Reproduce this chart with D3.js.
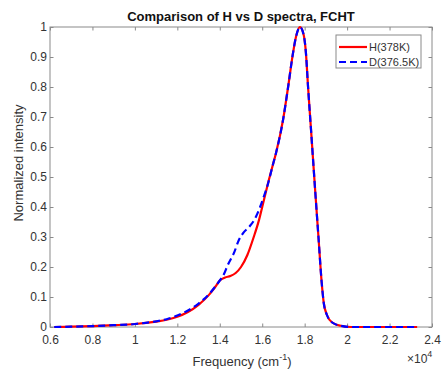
<!DOCTYPE html>
<html>
<head>
<meta charset="utf-8">
<script src="https://cdn.jsdelivr.net/npm/d3@7"></script>
<style>
  body { margin: 0; background: #fff; }
  text { font-family: "Liberation Sans", Arial, sans-serif; }
</style>
</head>
<body>
<div id="chart"></div>
<script>
// frequency (cm^-1) and normalized intensity
const freqH = [6200, 7000, 8000, 9000, 10000, 11000, 11500, 12000, 12500, 13000, 13500, 13800, 14000, 14250, 14500, 14750, 15000, 15300, 15600, 15850, 16000, 16230, 16500, 16650, 16980, 17220, 17450, 17600, 17780, 17950, 18060, 18160, 18300, 18500, 18650, 18800, 18900, 19050, 19300, 19700, 20200, 21000, 22000, 23300];
const intH = [0, 0.001, 0.003, 0.006, 0.01, 0.018, 0.024, 0.034, 0.05, 0.074, 0.108, 0.135, 0.155, 0.165, 0.17, 0.18, 0.2, 0.24, 0.3, 0.357, 0.4, 0.467, 0.54, 0.58, 0.69, 0.8, 0.913, 0.97, 1.0, 0.975, 0.913, 0.8, 0.657, 0.45, 0.3, 0.15, 0.08, 0.04, 0.015, 0.004, 0, 0, 0, 0];

const freqD = [6200, 7000, 8000, 9000, 10000, 11000, 11500, 12000, 12500, 13000, 13500, 13800, 14000, 14150, 14400, 14670, 14900, 15100, 15400, 15650, 15900, 16100, 16230, 16500, 16650, 16980, 17220, 17450, 17600, 17780, 17950, 18060, 18160, 18300, 18500, 18650, 18800, 18900, 19050, 19300, 19700, 20200, 21000, 22000, 23300];
const intD = [0, 0.001, 0.003, 0.006, 0.01, 0.019, 0.026, 0.038, 0.055, 0.078, 0.11, 0.136, 0.155, 0.17, 0.21, 0.247, 0.29, 0.313, 0.335, 0.36, 0.4, 0.44, 0.467, 0.54, 0.58, 0.69, 0.8, 0.913, 0.97, 1.0, 0.975, 0.913, 0.8, 0.657, 0.45, 0.3, 0.15, 0.08, 0.04, 0.015, 0.004, 0, 0, 0, 0];

const xTicks = [6000, 8000, 10000, 12000, 14000, 16000, 18000, 20000, 22000, 24000];
const yTicks = [0, 0.1, 0.2, 0.3, 0.4, 0.5, 0.6, 0.7, 0.8, 0.9, 1];
const seriesNames = ["H(378K)", "D(376.5K)"];

const W = 442, H = 370;
const m = {t: 27, r: 10, b: 43, l: 50};
const iw = W - m.l - m.r, ih = H - m.t - m.b;

const svg = d3.select("#chart").append("svg")
  .attr("width", W).attr("height", H);

const x = d3.scaleLinear().domain([6000, 24000]).range([0, iw]);
const y = d3.scaleLinear().domain([0, 1]).range([ih, 0]);

const g = svg.append("g").attr("transform", `translate(${m.l},${m.t})`);

const axisCol = "#8a8a8a", textCol = "#333";

function styleAxis(sel) {
  sel.select(".domain").remove();
  sel.selectAll(".tick line").attr("stroke", axisCol);
  sel.selectAll(".tick text").attr("fill", textCol).style("font-size", "12px");
}

g.append("g").attr("transform", `translate(0,${ih})`)
  .call(d3.axisBottom(x).tickValues(xTicks).tickSize(-3.5).tickPadding(8)
    .tickFormat(d => d3.format("")(d / 10000)))
  .call(styleAxis);
g.append("g")
  .call(d3.axisTop(x).tickValues(xTicks).tickSize(-3.5).tickFormat(""))
  .call(styleAxis);
g.append("g")
  .call(d3.axisLeft(y).tickValues(yTicks).tickSize(-3.5).tickPadding(3)
    .tickFormat(d3.format("")))
  .call(styleAxis);
g.append("g").attr("transform", `translate(${iw},0)`)
  .call(d3.axisRight(y).tickValues(yTicks).tickSize(-3.5).tickFormat(""))
  .call(styleAxis);

g.append("rect").attr("width", iw).attr("height", ih)
  .attr("fill", "none").attr("stroke", axisCol).attr("stroke-width", 1);

const line = d3.line()
  .x(d => x(d[0])).y(d => y(d[1]))
  .curve(d3.curveMonotoneX);

g.append("path").datum(d3.zip(freqH, intH))
  .attr("d", line).attr("fill", "none")
  .attr("stroke", "#ff0000").attr("stroke-width", 2.2);
g.append("path").datum(d3.zip(freqD, intD))
  .attr("d", line).attr("fill", "none")
  .attr("stroke", "#0000ff").attr("stroke-width", 2.2)
  .attr("stroke-dasharray", "7,4");

// title and labels
svg.append("text").attr("x", m.l + iw / 2).attr("y", 21)
  .attr("text-anchor", "middle").style("font-size", "13px").style("font-weight", "bold")
  .attr("fill", "#111").text("Comparison of H vs D spectra, FCHT");

const xl = svg.append("text").attr("x", m.l + iw / 2 + 1).attr("y", 366)
  .attr("text-anchor", "middle").style("font-size", "13px").attr("fill", textCol);
xl.append("tspan").text("Frequency (cm");
xl.append("tspan").attr("dy", -6).style("font-size", "9px").text("-1");
xl.append("tspan").attr("dy", 6).text(")");

const ex = svg.append("text").attr("x", 407).attr("y", 363)
  .style("font-size", "12px").attr("fill", textCol);
ex.append("tspan").text("\u00d710");
ex.append("tspan").attr("dy", -6).style("font-size", "9px").text("4");

svg.append("text")
  .attr("transform", `translate(23,${m.t + ih / 2 - 14}) rotate(-90)`)
  .attr("text-anchor", "middle").style("font-size", "13px").attr("fill", textCol)
  .text("Normalized intensity");

// legend
const lg = svg.append("g").attr("transform", "translate(336,35)");
lg.append("rect").attr("width", 85).attr("height", 33)
  .attr("fill", "#fff").attr("stroke", axisCol);
const legCols = ["#ff0000", "#0000ff"];
seriesNames.forEach((s, i) => {
  const yy = 12 + i * 15;
  lg.append("line").attr("x1", 3).attr("x2", 31).attr("y1", yy).attr("y2", yy)
    .attr("stroke", legCols[i]).attr("stroke-width", 2.2)
    .attr("stroke-dasharray", i ? "7,4" : null);
  lg.append("text").attr("x", 33).attr("y", yy + 4)
    .style("font-size", "11px").attr("fill", textCol).text(s);
});
</script>
</body>
</html>
